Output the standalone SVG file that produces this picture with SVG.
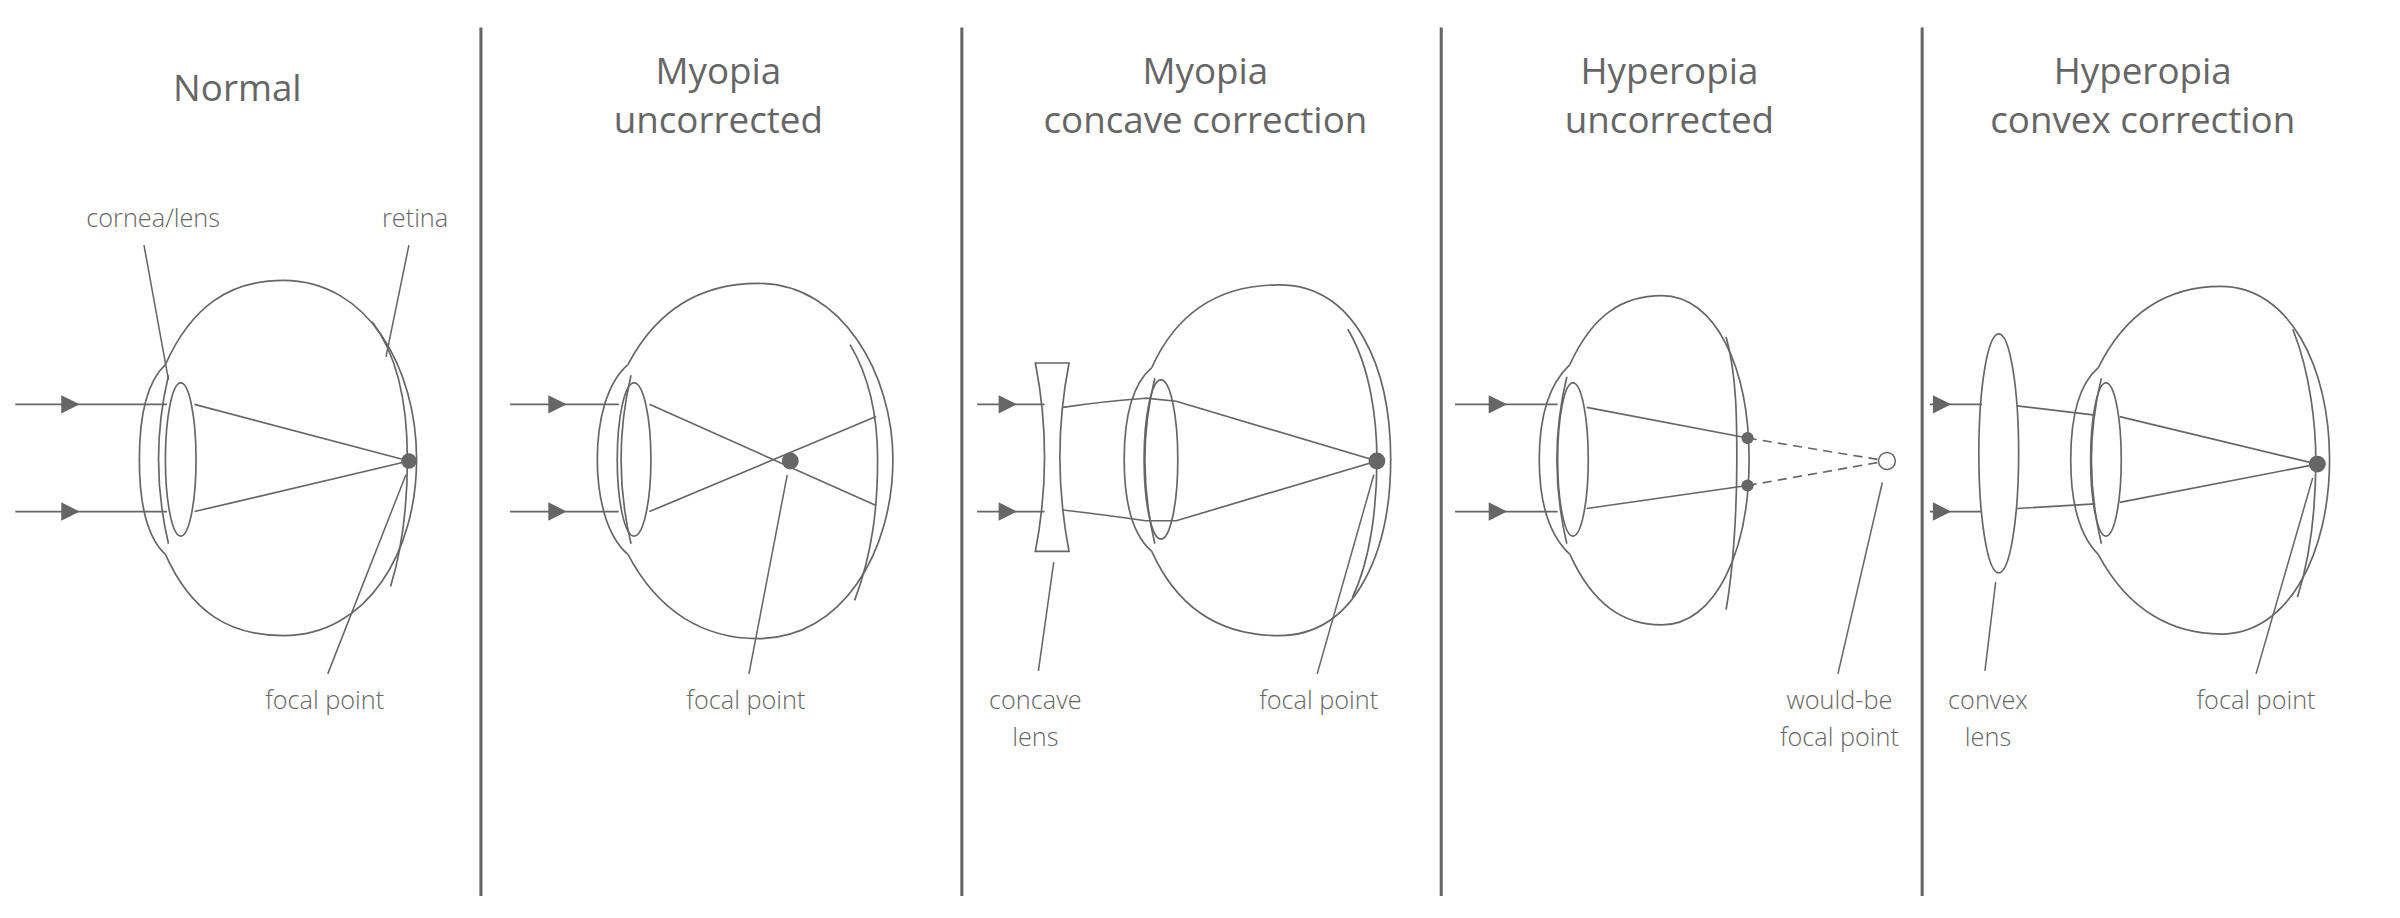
<svg xmlns="http://www.w3.org/2000/svg" xmlns:xlink="http://www.w3.org/1999/xlink" width="2400" height="918" viewBox="0 0 2400 918">
<style>
.t{font-family:"Open Sans","Liberation Sans",sans-serif;font-size:24px;fill:#666;text-anchor:middle;font-weight:500}
.l{font-family:"Open Sans","Liberation Sans",sans-serif;font-size:16.5px;fill:#666;text-anchor:middle;font-weight:300}
.s{fill:none;stroke:#666;stroke-width:1.1}
.d{stroke:#666;stroke-width:2}
.lead{stroke:#666;stroke-width:1}
</style>
<defs>
<polygon id="ah" points="0,-6 12,0 0,6" fill="#666"/>
</defs>
<rect width="2400" height="918" fill="#fff"/>
<g transform="scale(1.5316)">
<g id="dividers">
<line class="d" x1="314" y1="18" x2="314" y2="585"/>
<line class="d" x1="628" y1="18" x2="628" y2="585"/>
<line class="d" x1="941" y1="18" x2="941" y2="585"/>
<line class="d" x1="1255" y1="18" x2="1255" y2="585"/>
</g>
<g id="panel-normal">
<text class="t" x="155" y="66">Normal</text>
<path class="s" d="M108,238 C125,200 150,183 185,183 C240,183 272,240 272,300 C272,360 240,415 185,415 C150,415 125,400 108,362"/>
<path class="s" d="M108,238 C95,250 91,275 91,300 C91,325 95,350 108,362"/>
<path class="s" d="M110,245 Q97,300 110,355"/>
<path class="s" d="M243,210 C262,235 266,270 266,300 C266,335 262,360 255,383"/>
<ellipse class="s" cx="118" cy="300" rx="10" ry="50"/>
<path class="s" d="M10,264 H109 M10,334 H109 M127,264 L267,301 L127,334"/>
<use href="#ah" x="40" y="264"/><use href="#ah" x="40" y="334"/>
<circle cx="267" cy="301" r="5" fill="#666"/>
<text class="l" x="100" y="148">cornea/lens</text>
<text class="l" x="271" y="148">retina</text>
<text class="l" x="212" y="463">focal point</text>
<path class="lead" d="M94,160 L110,248 M267,160 L252,233 M214,440 L265,310"/>
</g>
<g id="panel-myopia">
<text class="t" x="469" y="55">Myopia</text>
<text class="t" x="469" y="87">uncorrected</text>
<path class="s" d="M410,238 C430,200 460,185 495,185 C550,185 583,245 583,300 C583,360 550,417 495,417 C460,417 430,400 410,362"/>
<path class="s" d="M410,238 C396,250 390,275 390,300 C390,325 396,350 410,362"/>
<path class="s" d="M412,245 Q399,300 412,355"/>
<path class="s" d="M555,225 C570,250 573,280 573,300 C573,330 570,360 558,392"/>
<ellipse class="s" cx="414" cy="300" rx="11" ry="50"/>
<path class="s" d="M333,264 H404 M333,334 H404 M424,264 L572,330 M424,334 L572,272"/>
<use href="#ah" x="358" y="264"/><use href="#ah" x="358" y="334"/>
<circle cx="516" cy="301" r="5.5" fill="#666"/>
<text class="l" x="487" y="463">focal point</text>
<path class="lead" d="M489,440 L514,310"/>
</g>
<g id="panel-myopia-corrected">
<text class="t" x="787" y="55">Myopia</text>
<text class="t" x="787" y="87">concave correction</text>
<path class="s" d="M676,237 H698 Q686,298 698,360 H676 Q688,298 676,237 Z"/>
<path class="s" d="M752,240 C770,200 800,186 835,186 C885,186 908,240 908,300 C908,360 885,415 835,415 C800,415 770,400 752,360"/>
<path class="s" d="M752,240 C738,252 734,275 734,300 C734,325 738,348 752,360"/>
<path class="s" d="M754,247 Q741,300 754,355"/>
<path class="s" d="M880,215 C895,240 899,275 899,300 C899,330 895,365 883,390"/>
<ellipse class="s" cx="758" cy="300" rx="11" ry="52"/>
<path class="s" d="M638,264 H682 M638,334 H682 M694,266 Q720,262 748,260 L768,262 L899,301 L768,340 L748,340 Q720,336 694,333"/>
<use href="#ah" x="652" y="264"/><use href="#ah" x="652" y="334"/>
<circle cx="899" cy="301" r="5.5" fill="#666"/>
<text class="l" x="676" y="463">concave</text>
<text class="l" x="676" y="487">lens</text>
<text class="l" x="861" y="463">focal point</text>
<path class="lead" d="M688,367 L678,438 M860,440 L897,310"/>
</g>
<g id="panel-hyperopia">
<text class="t" x="1090" y="55">Hyperopia</text>
<text class="t" x="1090" y="87">uncorrected</text>
<path class="s" d="M1025,238 C1040,205 1060,193 1085,193 C1120,193 1142,240 1142,300 C1142,360 1120,408 1085,408 C1060,408 1040,395 1025,362"/>
<path class="s" d="M1025,238 C1010,252 1005,275 1005,300 C1005,325 1010,348 1025,362"/>
<path class="s" d="M1023,246 Q1010,300 1023,355"/>
<path class="s" d="M1127,220 C1134,245 1134,275 1134,300 C1134,330 1132,370 1127,398"/>
<ellipse class="s" cx="1027" cy="300" rx="10" ry="50"/>
<path class="s" d="M950,264 H1017 M950,334 H1017 M1036,266 L1141,286 M1036,332 L1141,317"/>
<path class="s" d="M1141,286 L1226,300 M1141,317 L1226,302" stroke-dasharray="6,4"/>
<use href="#ah" x="972" y="264"/><use href="#ah" x="972" y="334"/>
<circle cx="1141" cy="286" r="4" fill="#666"/>
<circle cx="1141" cy="317" r="4" fill="#666"/>
<circle cx="1232" cy="301" r="5.5" fill="#fff" stroke="#666" stroke-width="1"/>
<text class="l" x="1201" y="463">would-be</text>
<text class="l" x="1201" y="487">focal point</text>
<path class="lead" d="M1200,440 L1229,315"/>
</g>
<g id="panel-hyperopia-corrected">
<text class="t" x="1399" y="55">Hyperopia</text>
<text class="t" x="1399" y="87">convex correction</text>
<ellipse class="s" cx="1305" cy="296" rx="13" ry="78"/>
<path class="s" d="M1370,240 C1390,200 1420,187 1450,187 C1495,187 1521,240 1521,300 C1521,360 1495,414 1450,414 C1420,414 1390,400 1370,362"/>
<path class="s" d="M1370,240 C1356,252 1352,275 1352,300 C1352,325 1356,348 1370,362"/>
<path class="s" d="M1372,247 Q1359,300 1372,355"/>
<path class="s" d="M1497,215 C1509,245 1512,280 1512,300 C1512,335 1508,365 1500,390"/>
<ellipse class="s" cx="1375" cy="300" rx="10" ry="50"/>
<path class="s" d="M1260,264 H1294 M1260,334 H1294 M1317,265 L1368,271 M1317,332 L1368,329 M1384,272 L1513,303 L1384,328"/>
<use href="#ah" x="1262" y="264"/><use href="#ah" x="1262" y="334"/>
<circle cx="1513" cy="303" r="5.5" fill="#666"/>
<text class="l" x="1298" y="463">convex</text>
<text class="l" x="1298" y="487">lens</text>
<text class="l" x="1473" y="463">focal point</text>
<path class="lead" d="M1303,380 L1296,438 M1473,440 L1510,312"/>
</g>
</g>
</svg>
